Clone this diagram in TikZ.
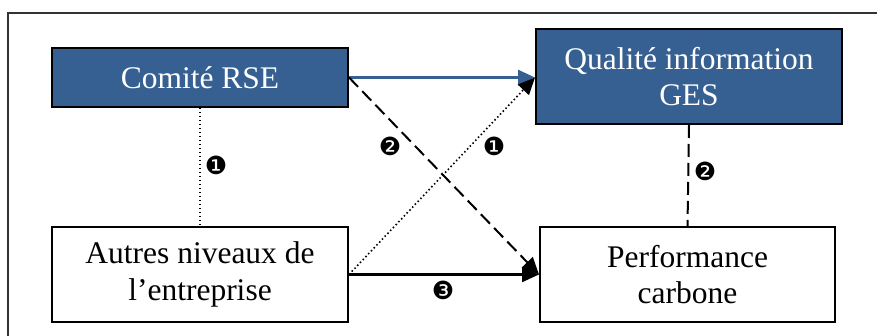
\documentclass[tikz,border=0pt]{standalone}
\usepackage{fontspec}
\setmainfont{Liberation Serif}
\newfontfamily\dvfont{DejaVu Sans}
\usetikzlibrary{arrows.meta}
\definecolor{rseblue}{RGB}{55,96,146}
\begin{document}
\begin{tikzpicture}[x=1pt,y=-1pt,
  boxtext/.style={font=\fontsize{31.5}{36.5}\selectfont, align=center, inner sep=0pt, line width=2pt, draw=black},
  bluebox/.style={boxtext, fill=rseblue, text=white},
  whitebox/.style={boxtext, fill=white, text=black},
  num/.style={font=\dvfont\fontsize{25}{25}\selectfont, inner sep=0pt},
  bigtip/.style={-{Triangle[length=17pt,width=15pt]}},
  dashline/.style={line width=2pt, dash pattern=on 13pt off 6pt},
  dotline/.style={line width=1.6pt, dash pattern=on 1.5pt off 2.5pt}
]
\useasboundingbox (0,0) rectangle (877,336);
\draw[line width=1.5pt, draw=black!80] (8,336) -- (8,13) -- (877,13);

\node[bluebox, minimum width=296pt, minimum height=59pt] (rse) at (200,77.5) {Comité RSE};
\node[whitebox, minimum width=296pt, minimum height=95pt] (autres) at (200,274.5) {Autres niveaux de\\l’entreprise};
\node[bluebox, minimum width=306pt, minimum height=95pt] (ges) at (689,76.5) {Qualité information\\GES};
\node[whitebox, minimum width=295pt, minimum height=95pt] (perf) at (687.5,274.5) {Performance\\carbone};

\coordinate (gesin) at (ges.west |- rse.east);

\draw[line width=2.5pt, draw=rseblue, -{Triangle[length=17pt,width=15pt]}] (rse.east) -- (gesin);
\draw[dashline, bigtip] (rse.east) -- (perf.west);
\draw[dotline, bigtip] (autres.east) -- (gesin);
\draw[line width=2.2pt, bigtip] (autres.east) -- (perf.west);
\draw[dotline] (rse.south) -- (autres.north);
\draw[dashline] (ges.south) -- (perf.north);

\node[num] (n1a) at (216,165) {❶};
\node[num] (n2a) at (390,146) {❷};
\node[num] (n1b) at (494,146) {❶};
\node[num] (n2b) at (705,171) {❷};
\node[num] (n3) at (443,290) {❸};
\end{tikzpicture}
\end{document}
